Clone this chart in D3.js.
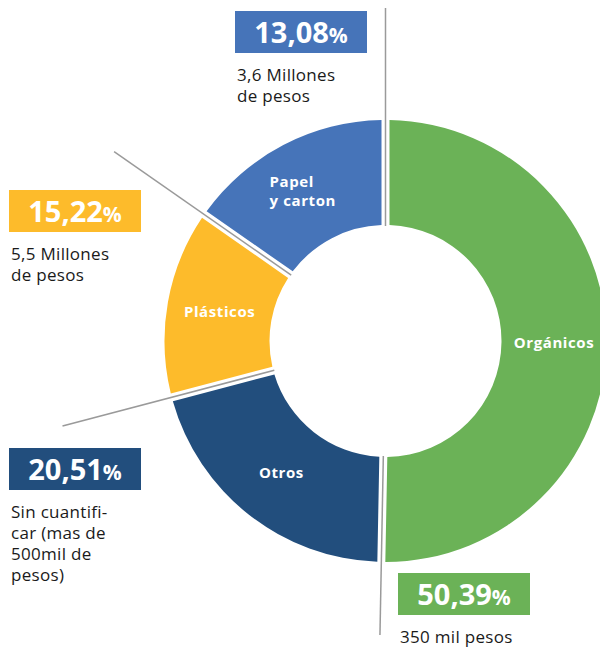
<!DOCTYPE html>
<html lang="es">
<head>
<meta charset="utf-8">
<title>Residuos</title>
<style>
  body { margin: 0; background: #fff; }
  svg { display: block; font-family: "Open Sans", sans-serif; }
  .slice-label { fill: #fff; font-weight: 700; font-size: 15px; letter-spacing: 0.6px; }
  .pct { fill: #fff; font-weight: 700; }
  .note { fill: #1a1a1a; font-size: 17px; letter-spacing: 0.3px; }
  .leader { stroke: #9a9a9a; stroke-width: 1.5px; }
</style>
</head>
<body>
<div id="chart"></div>
<script src="https://cdnjs.cloudflare.com/ajax/libs/d3/7.8.5/d3.min.js"></script>
<script>
// slices clockwise from 12 o'clock
const categories = ["Orgánicos", "Otros", "Plásticos", "Papel\ny carton"];
const shares = [50.3, 20.6, 13.8, 15.3];          // slice sizes as drawn
const pctLabels = ["50,39", "20,51", "15,22", "13,08"];
const notes = [
  ["350 mil pesos"],
  ["Sin cuantifi-", "car (mas de", "500mil de", "pesos)"],
  ["5,5 Millones", "de pesos"],
  ["3,6 Millones", "de pesos"]
];
const colors = ["#6bb257", "#224e7d", "#fdbb2b", "#4674b9"];

var width = 600, height = 648,
    cx = 385.5, cy = 341,
    outerR = 221, innerR = 116;

// callout boxes (top-left corner) and leader lengths per slice start edge
var boxes = [[398, 573], [9, 448], [9, 190], [235, 11]];
var leaderLen = [333, 294, 334, 331];
var boxW = 132, boxH = 42;

var svg = d3.select('#chart').append('svg')
    .attr('width', width)
    .attr('height', height);

var pie = d3.pie().sort(null).value(function(d) { return d; });
var arcs = pie(shares);

var arc = d3.arc()
    .innerRadius(innerR)
    .outerRadius(outerR)
    .padRadius(200)
    .padAngle(8 / 200);

var g = svg.append('g').attr('transform', 'translate(' + cx + ',' + cy + ')');

g.selectAll('path.slice')
  .data(arcs)
  .enter().append('path')
    .attr('class', 'slice')
    .attr('d', arc)
    .attr('fill', function(d, i) { return colors[i]; });

// leader lines run through the gaps
g.selectAll('line.leader')
  .data(arcs)
  .enter().append('line')
    .attr('class', 'leader')
    .attr('x1', function(d) { return Math.sin(d.startAngle) * (innerR - 1); })
    .attr('y1', function(d) { return -Math.cos(d.startAngle) * (innerR - 1); })
    .attr('x2', function(d, i) { return Math.sin(d.startAngle) * leaderLen[i]; })
    .attr('y2', function(d, i) { return -Math.cos(d.startAngle) * leaderLen[i]; });

// slice names (two-line one goes in separate text elements)
var labelArc = d3.arc().innerRadius(innerR).outerRadius(outerR);
arcs.forEach(function(d, i) {
  var c = labelArc.centroid(d),
      lines = categories[i].split('\n'),
      multi = lines.length > 1;
  lines.forEach(function(s, k) {
    g.append('text')
      .attr('class', 'slice-label')
      .attr('text-anchor', multi ? 'start' : 'middle')
      .attr('x', multi ? c[0] - 38 : c[0])
      .attr('y', c[1] + 5 + (k - (lines.length - 1) / 2) * 19)
      .attr('font-size', multi ? 14 : null)
      .text(s);
  });
});

// percentage boxes and notes
var callouts = svg.selectAll('g.callout')
  .data(arcs)
  .enter().append('g')
    .attr('class', 'callout')
    .attr('transform', function(d, i) { return 'translate(' + boxes[i][0] + ',' + boxes[i][1] + ')'; });

callouts.append('rect')
    .attr('width', boxW)
    .attr('height', boxH)
    .attr('fill', function(d, i) { return colors[i]; });

var pct = callouts.append('text')
    .attr('class', 'pct')
    .attr('x', boxW / 2)
    .attr('y', 32)
    .attr('text-anchor', 'middle');
pct.append('tspan').attr('font-size', 29).text(function(d, i) { return pctLabels[i]; });
pct.append('tspan').attr('font-size', 21).text('%');

callouts.append('text')
    .attr('class', 'note')
    .each(function(d, i) {
      var t = d3.select(this);
      notes[i].forEach(function(s, k) {
        t.append('tspan')
          .attr('x', 2)
          .attr('y', 70 + k * 21)
          .text(s);
      });
    });
</script>
</body>
</html>
